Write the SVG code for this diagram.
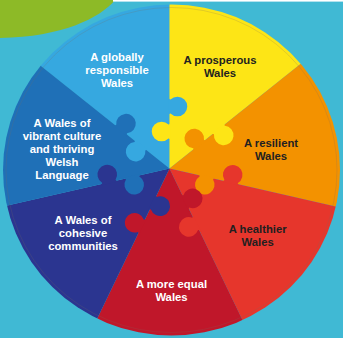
<svg xmlns="http://www.w3.org/2000/svg" xmlns:xlink="http://www.w3.org/1999/xlink" width="343" height="338" viewBox="0 0 343 338">
<style>
.t{font-family:"Liberation Sans",Arial,sans-serif;font-weight:bold;font-size:11.3px;text-anchor:middle}
.w{fill:#ffffff}
.d{fill:#231f20}
</style>
<defs>
<clipPath id="disc"><ellipse cx="171.5" cy="170" rx="168.5" ry="165.5"/></clipPath>
<path id="tab" d="M-11,-1.2 Q-7,-1.2 -6.9,1 A9.8 9.8 0 1 0 6.9,1 Q7,-1.2 11,-1.2 Z"/>
</defs>
<rect width="343" height="338" fill="#40b9d4"/>
<path d="M0,0 H115 C100,18 62,37 0,38 Z" fill="#8dba27"/>
<rect x="113" y="0" width="230" height="1.6" fill="#ffffff"/>
<g clip-path="url(#disc)">
<g id="globally"><path d="M169.5,168.5 L-143.2,-80.9 L-4.1,-191.9 L169.5,-231.5 Z" fill="#36a8e0"/></g>
<g id="prosperous"><path d="M169.5,168.5 L169.5,-231.5 L343.1,-191.9 L482.2,-80.9 Z" fill="#fde516"/></g>
<g id="resilient"><path d="M169.5,168.5 L482.2,-80.9 L559.5,79.5 L559.5,257.5 Z" fill="#f39200"/></g>
<g id="healthier"><path d="M169.5,168.5 L559.5,257.5 L482.2,417.9 L343.1,528.9 Z" fill="#e6362c"/></g>
<g id="equal"><path d="M169.5,168.5 L343.1,528.9 L169.5,568.5 L-4.1,528.9 Z" fill="#c0172a"/></g>
<g id="cohesive"><path d="M169.5,168.5 L-4.1,528.9 L-143.2,417.9 L-220.5,257.5 Z" fill="#2b3590"/></g>
<g id="culture"><path d="M169.5,168.5 L-220.5,257.5 L-220.5,79.5 L-143.2,-80.9 Z" fill="#1f70b7"/></g>
<g id="tabs">
<use xlink:href="#tab" fill="#36a8e0" transform="translate(169.5,168.5) rotate(-90) translate(62,0)"/>
<use xlink:href="#tab" fill="#fde516" transform="translate(169.5,168.5) rotate(-90) translate(37,0) scale(1,-1)"/>
<use xlink:href="#tab" fill="#fde516" transform="translate(169.5,168.5) rotate(-38.57) translate(63,0)"/>
<use xlink:href="#tab" fill="#f39200" transform="translate(169.5,168.5) rotate(-38.57) translate(38,0) scale(1,-1)"/>
<use xlink:href="#tab" fill="#e6362c" transform="translate(169.5,168.5) rotate(12.86) translate(63,0) scale(1,-1)"/>
<use xlink:href="#tab" fill="#f39200" transform="translate(169.5,168.5) rotate(12.86) translate(38,0)"/>
<use xlink:href="#tab" fill="#e6362c" transform="translate(169.5,168.5) rotate(64.29) translate(61,0)"/>
<use xlink:href="#tab" fill="#c0172a" transform="translate(169.5,168.5) rotate(64.29) translate(37,0) scale(1,-1)"/>
<use xlink:href="#tab" fill="#c0172a" transform="translate(169.5,168.5) rotate(115.71) translate(64,0)"/>
<use xlink:href="#tab" fill="#2b3590" transform="translate(169.5,168.5) rotate(115.71) translate(38,0) scale(1,-1)"/>
<use xlink:href="#tab" fill="#2b3590" transform="translate(169.5,168.5) rotate(167.14) translate(62,0)"/>
<use xlink:href="#tab" fill="#1f70b7" transform="translate(169.5,168.5) rotate(167.14) translate(38,0) scale(1,-1)"/>
<use xlink:href="#tab" fill="#1f70b7" transform="translate(169.5,168.5) rotate(218.57) translate(62,0)"/>
<use xlink:href="#tab" fill="#36a8e0" transform="translate(169.5,168.5) rotate(218.57) translate(37,0) scale(1,-1)"/>
</g>
</g>
<ellipse cx="171.5" cy="170" rx="165.5" ry="162.5" fill="none" stroke="#7a6a60" stroke-opacity="0.3" stroke-width="0.7"/>
<g id="labels">
<text class="t w" x="117" y="61">A globally</text>
<text class="t w" x="117" y="74">responsible</text>
<text class="t w" x="117" y="87">Wales</text>
<text class="t d" x="220" y="64.3">A prosperous</text>
<text class="t d" x="220" y="77.3">Wales</text>
<text class="t d" x="271" y="146.7">A resilient</text>
<text class="t d" x="271" y="159.5">Wales</text>
<text class="t d" x="257.7" y="232.7">A healthier</text>
<text class="t d" x="257.7" y="246">Wales</text>
<text class="t w" x="171.5" y="288">A more equal</text>
<text class="t w" x="171.5" y="300.7">Wales</text>
<text class="t w" x="83" y="224">A Wales of</text>
<text class="t w" x="83" y="237">cohesive</text>
<text class="t w" x="83" y="250">communities</text>
<text class="t w" x="62" y="126.7">A Wales of</text>
<text class="t w" x="62" y="139.5">vibrant culture</text>
<text class="t w" x="62" y="152.5">and thriving</text>
<text class="t w" x="62" y="165.7">Welsh</text>
<text class="t w" x="62" y="179">Language</text>
</g>
</svg>
